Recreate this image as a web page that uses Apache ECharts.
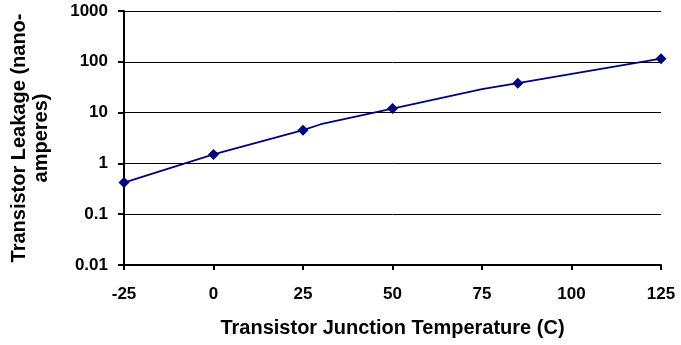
<!DOCTYPE html>
<html>
<head>
<meta charset="utf-8">
<script src="https://cdn.jsdelivr.net/npm/echarts@6/dist/echarts.min.js"></script>
<style>
  html, body { margin: 0; padding: 0; background: #fff; }
  #chart { width: 681px; height: 345px; }
</style>
</head>
<body>
<div id="chart"></div>
<script>
// Junction temperature (C) and measured leakage (nA)
const temps   = [-25, 0, 25, 30, 50, 75, 85, 125];
const leakage = [0.42, 1.5, 4.5, 5.9, 12, 29, 38, 115];
// Which samples carry a diamond marker
const marked  = [true, true, true, false, true, false, true, true];

const yTicks = [0.01, 0.1, 1, 10, 100, 1000];
const xTitle = 'Transistor Junction Temperature (C)';
const yTitle = 'Transistor Leakage (nano-\namperes)';

const FONT = '"Liberation Sans", Arial, sans-serif';

const seriesData = temps.map((t, i) => ({
  value: [t, leakage[i]],
  symbol: marked[i] ? 'diamond' : 'none'
}));

const chart = echarts.init(document.getElementById('chart'));
chart.setOption({
  animation: false,
  backgroundColor: '#ffffff',
  grid: { left: 122, right: 20, top: 11, bottom: 80 },
  xAxis: {
    type: 'value',
    min: -25, max: 125, interval: 25,
    name: xTitle,
    nameLocation: 'middle',
    nameGap: 53,
    nameTextStyle: { fontFamily: FONT, fontWeight: 'bold', fontSize: 20, color: '#000' },
    axisLine: { onZero: false, lineStyle: { color: '#000', width: 2 } },
    axisTick: { show: true, length: 5, lineStyle: { color: '#000', width: 2 } },
    axisLabel: { fontFamily: FONT, fontWeight: 'bold', fontSize: 17, color: '#000', margin: 21 },
    splitLine: { show: false }
  },
  yAxis: {
    type: 'log',
    logBase: 10,
    min: yTicks[0], max: yTicks[yTicks.length - 1],
    name: yTitle,
    nameLocation: 'middle',
    nameRotate: 90,
    nameGap: 72,
    nameTextStyle: { fontFamily: FONT, fontWeight: 'bold', fontSize: 20, color: '#000', lineHeight: 22 },
    axisLine: { onZero: false, lineStyle: { color: '#000', width: 2 } },
    axisTick: { show: true, length: 6, lineStyle: { color: '#000', width: 2 } },
    axisLabel: {
      fontFamily: FONT, fontWeight: 'bold', fontSize: 17, color: '#000', margin: 16,
      formatter: v => {
        const hit = yTicks.find(t => Math.abs(Math.log10(t) - Math.log10(v)) < 1e-6);
        return hit !== undefined ? String(hit) : '';
      }
    },
    splitLine: { show: true, lineStyle: { color: '#000', width: 1 } }
  },
  series: [{
    type: 'line',
    data: seriesData,
    symbolSize: 11,
    showAllSymbol: true,
    lineStyle: { color: '#000080', width: 1.8 },
    itemStyle: { color: '#000080' }
  }]
});
</script>
</body>
</html>
